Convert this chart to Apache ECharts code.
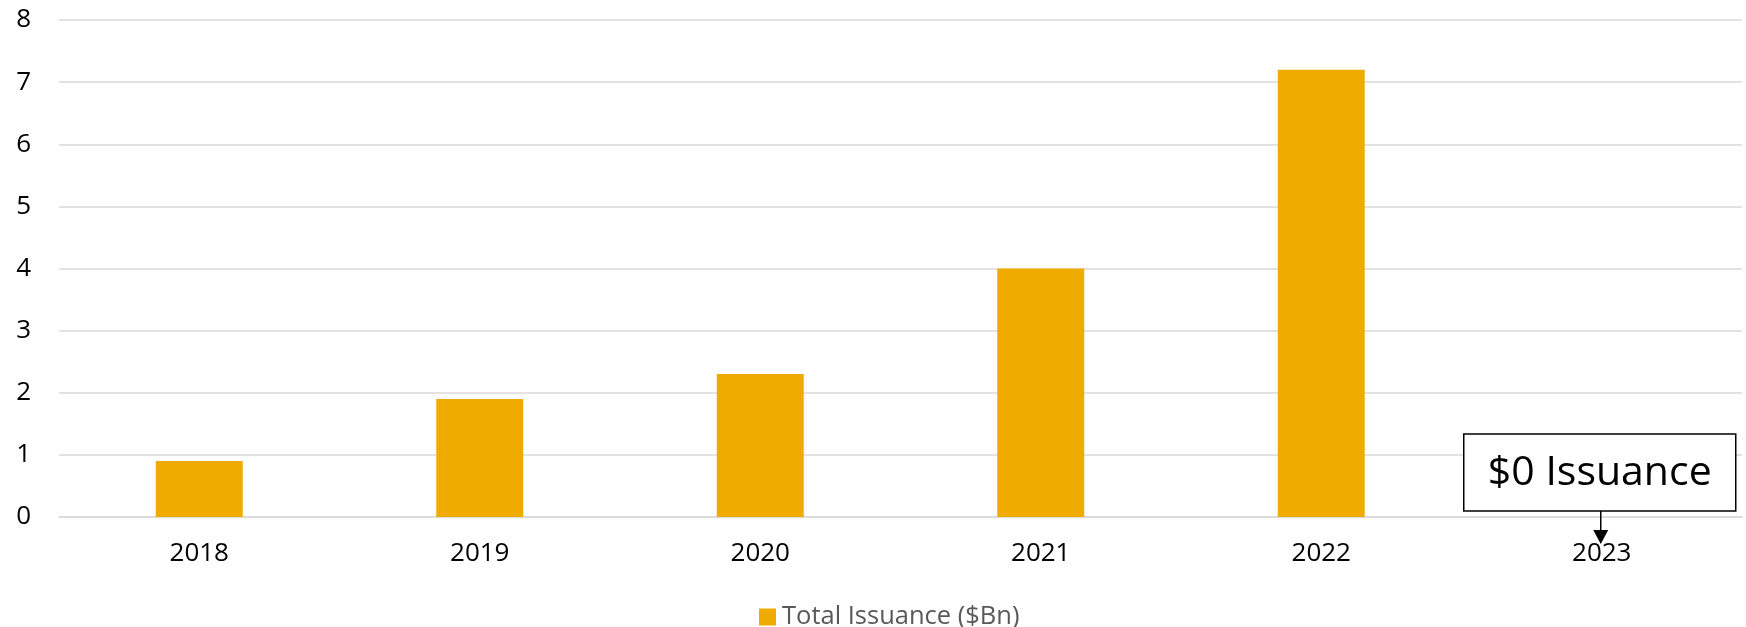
<!DOCTYPE html>
<html>
<head>
<meta charset="utf-8">
<script src="https://cdn.jsdelivr.net/npm/echarts@6/dist/echarts.min.js"></script>
<style>
html,body{margin:0;padding:0;background:#fff;}
#c{width:1746px;height:627px;}
</style>
</head>
<body>
<div id="c"></div>
<script>
const categories = ['2018', '2019', '2020', '2021', '2022', '2023'];
const issuance = [0.9, 1.9, 2.3, 4.0, 7.2, 0];
const seriesName = 'Total Issuance ($Bn)';
const annotationText = '$0 Issuance';
const annotationCategory = '2023';
const yTicks = { min: 0, max: 8, interval: 1 };

const FONT = '"Open Sans", "Noto Sans", sans-serif';
const chart = echarts.init(document.getElementById('c'), null, { renderer: 'canvas' });

chart.setOption({
  animation: false,
  backgroundColor: '#ffffff',
  grid: { left: 59, right: 4, top: 20, bottom: 110, containLabel: false },
  legend: {
    data: [seriesName],
    top: 599,
    left: 754,
    itemWidth: 17,
    itemHeight: 17,
    itemGap: 8,
    icon: 'rect',
    textStyle: { color: '#595959', fontSize: 25.5, fontFamily: FONT, padding: [0, 0, 0, 1] }
  },
  xAxis: {
    type: 'category',
    data: categories,
    axisLine: { show: true, lineStyle: { color: '#D9D9D9', width: 1.5 } },
    axisTick: { show: false },
    axisLabel: { color: '#000000', fontSize: 26, fontFamily: FONT, margin: 24 }
  },
  yAxis: {
    type: 'value',
    min: yTicks.min,
    max: yTicks.max,
    interval: yTicks.interval,
    axisLine: { show: false },
    axisTick: { show: false },
    splitLine: { lineStyle: { color: '#D9D9D9', width: 1.5 } },
    axisLabel: { color: '#000000', fontSize: 26, fontFamily: FONT, margin: 28 }
  },
  series: [{
    name: seriesName,
    type: 'bar',
    data: issuance,
    barWidth: '31%',
    itemStyle: { color: '#F0AB00' }
  }]
});

// Annotation box + arrow, positioned from the library's own axis scales
const zero = chart.convertToPixel({ xAxisIndex: 0, yAxisIndex: 0 }, [annotationCategory, 0]);
const cx = zero[0];
const zy = zero[1];
const boxW = 272, boxH = 77;
chart.setOption({
  graphic: [
    {
      type: 'rect',
      shape: { x: cx - boxW / 2 - 2, y: zy - 83, width: boxW, height: boxH },
      style: { fill: '#ffffff', stroke: '#000000', lineWidth: 1.5 },
      z: 100
    },
    {
      type: 'text',
      x: cx - 2, y: zy - 83 + boxH / 2 + 1,
      style: {
        text: annotationText, fill: '#000000', fontSize: 41, fontFamily: FONT,
        align: 'center', verticalAlign: 'middle'
      },
      z: 101
    },
    {
      type: 'line',
      shape: { x1: cx - 1, y1: zy - 6, x2: cx - 1, y2: zy + 14 },
      style: { stroke: '#000000', lineWidth: 1.5 },
      z: 100
    },
    {
      type: 'polygon',
      shape: { points: [[cx - 8.5, zy + 13], [cx + 6.5, zy + 13], [cx - 1, zy + 27]] },
      style: { fill: '#000000' },
      z: 100
    }
  ]
});
</script>
</body>
</html>
